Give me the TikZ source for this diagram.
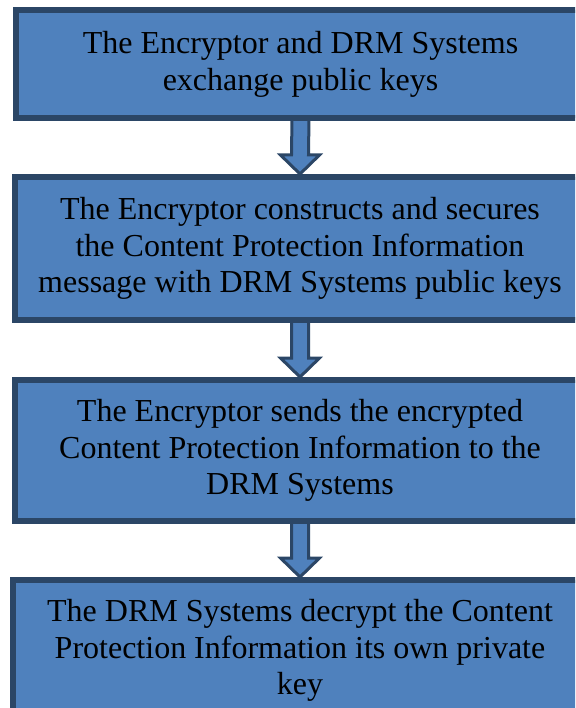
\documentclass[tikz,border=0pt]{standalone}
\usepackage{fontspec}
\setmainfont{Liberation Serif}
\usetikzlibrary{calc,backgrounds}
\definecolor{boxfill}{HTML}{4F81BD}
\definecolor{boxline}{HTML}{2B4666}
\newcommand{\flowarrow}[2]{%
  \draw[blockarrow] ($(#1.south)+(-8.5,-4)$) -- ($(#1.south)+(8.5,-4)$)
    -- ($(#2.north)+(8.5,-19)$) -- ($(#2.north)+(19.5,-19)$) -- (#2.north)
    -- ($(#2.north)+(-19.5,-19)$) -- ($(#2.north)+(-8.5,-19)$) -- cycle;}
\begin{document}
\begin{tikzpicture}[x=1pt,y=-1pt,
  stepbox/.style={draw=boxline, fill=boxfill, line width=6pt, rectangle,
    inner sep=0pt, align=center, text=black,
    font=\fontsize{32}{36.8}\selectfont},
  blockarrow/.style={draw=boxline, fill=boxfill, line width=3pt, line join=miter}]
\useasboundingbox (0,0) rectangle (575,708);
\clip (0,0) rectangle (575,708);
\node[stepbox, minimum width=569pt, minimum height=108pt] (b1) at (300.5,64)
  {The Encryptor and DRM Systems\\exchange public keys};
\node[stepbox, minimum width=570pt, minimum height=143pt] (b2) at (300,248.5)
  {The Encryptor constructs and secures\\the Content Protection Information\\message with DRM Systems public keys};
\node[stepbox, minimum width=570pt, minimum height=141pt] (b3) at (300,450.5)
  {The Encryptor sends the encrypted\\Content Protection Information to the\\DRM Systems};
\node[stepbox, minimum width=574pt, minimum height=141pt] (b4) at (300,650.5)
  {The DRM Systems decrypt the Content\\Protection Information its own private\\key};
\begin{scope}[on background layer]
  \flowarrow{b1}{b2}
  \flowarrow{b2}{b3}
  \flowarrow{b3}{b4}
\end{scope}
\end{tikzpicture}
\end{document}
